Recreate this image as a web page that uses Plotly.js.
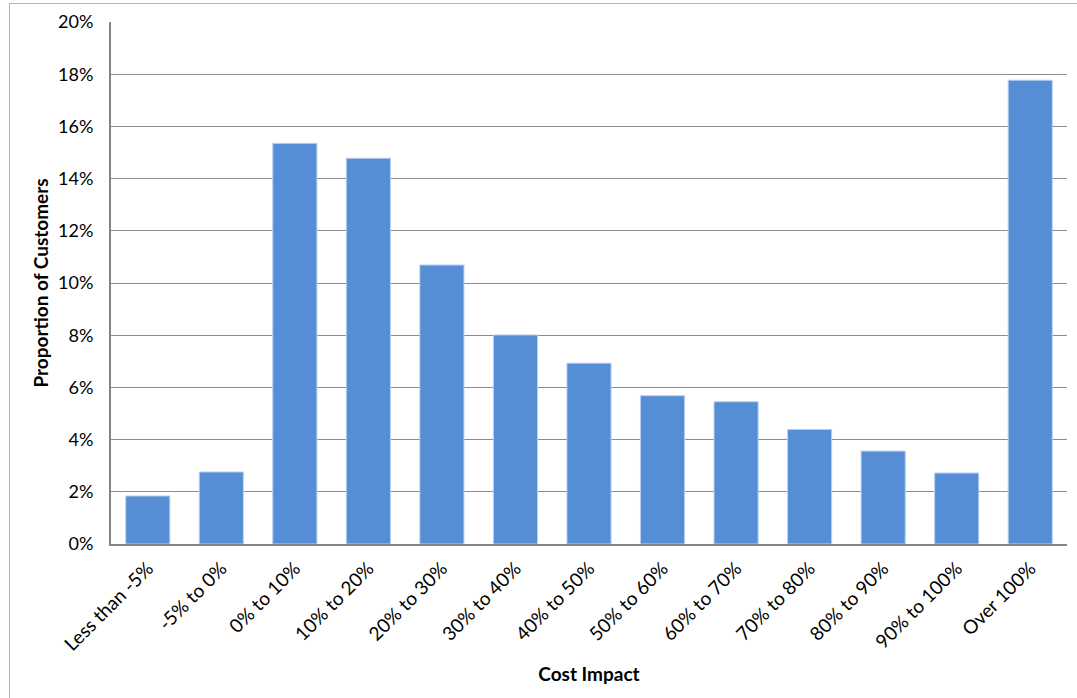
<!DOCTYPE html>
<html>
<head>
<meta charset="utf-8">
<script src="https://cdn.plot.ly/plotly-3.0.1.min.js"></script>
<style>
  html, body { margin: 0; padding: 0; background: #ffffff; }
  #frame {
    position: absolute; left: 9px; top: 3px; width: 1100px; height: 720px;
    border-left: 1.5px solid #b4b4b4; border-top: 1.5px solid #b4b4b4;
    pointer-events: none; z-index: 5;
  }
  #chart { position: absolute; left: 0; top: 0; width: 1077px; height: 698px; }
</style>
</head>
<body>
<div id="chart"></div>
<div id="frame"></div>
<script>
// Cost impact bands and the share of customers falling in each (percent)
const categories = [
  "Less than -5%", "-5% to 0%", "0% to 10%", "10% to 20%", "20% to 30%",
  "30% to 40%", "40% to 50%", "50% to 60%", "60% to 70%", "70% to 80%",
  "80% to 90%", "90% to 100%", "Over 100%"
];
const shares = [1.84, 2.76, 15.35, 14.78, 10.69, 8.01, 6.93, 5.68, 5.45, 4.39, 3.56, 2.72, 17.77];

const yTickValues = [0, 2, 4, 6, 8, 10, 12, 14, 16, 18, 20];
const yTickLabels = ["0%", "2%", "4%", "6%", "8%", "10%", "12%", "14%", "16%", "18%", "20%"];

const fontFamily = "Lato, 'Open Sans', sans-serif";

const trace = {
  type: "bar",
  x: categories,
  y: shares,
  marker: { color: "#558ed5", line: { color: "#b9d0ee", width: 1 } },
  hoverinfo: "x+y"
};

const layout = {
  width: 1077,
  height: 698,
  margin: { l: 111, r: 10, t: 22, b: 154 },
  paper_bgcolor: "#ffffff",
  plot_bgcolor: "#ffffff",
  bargap: 0.4,
  showlegend: false,
  font: { family: fontFamily, color: "#000000", size: 18 },
  xaxis: {
    type: "category",
    tickangle: -45,
    tickfont: { family: fontFamily, size: 19, color: "#000000" },
    showline: true,
    linecolor: "#868686",
    linewidth: 2,
    ticks: "",
    ticklabelstandoff: 4,
    showgrid: false,
    title: { text: "<b>Cost Impact</b>", font: { family: fontFamily, size: 19, color: "#000000" }, standoff: 14 }
  },
  yaxis: {
    range: [0, 20],
    tickvals: yTickValues,
    ticktext: yTickLabels,
    tickfont: { family: fontFamily, size: 18, color: "#000000" },
    showline: true,
    linecolor: "#868686",
    linewidth: 2,
    ticks: "",
    ticklabelstandoff: 12,
    showgrid: true,
    gridcolor: "#8c8c8c",
    gridwidth: 1,
    zeroline: false,
    title: { text: "<b>Proportion of Customers</b>", font: { family: fontFamily, size: 19, color: "#000000" }, standoff: 4 }
  }
};

Plotly.newPlot("chart", [trace], layout, { displayModeBar: false });
</script>
</body>
</html>
